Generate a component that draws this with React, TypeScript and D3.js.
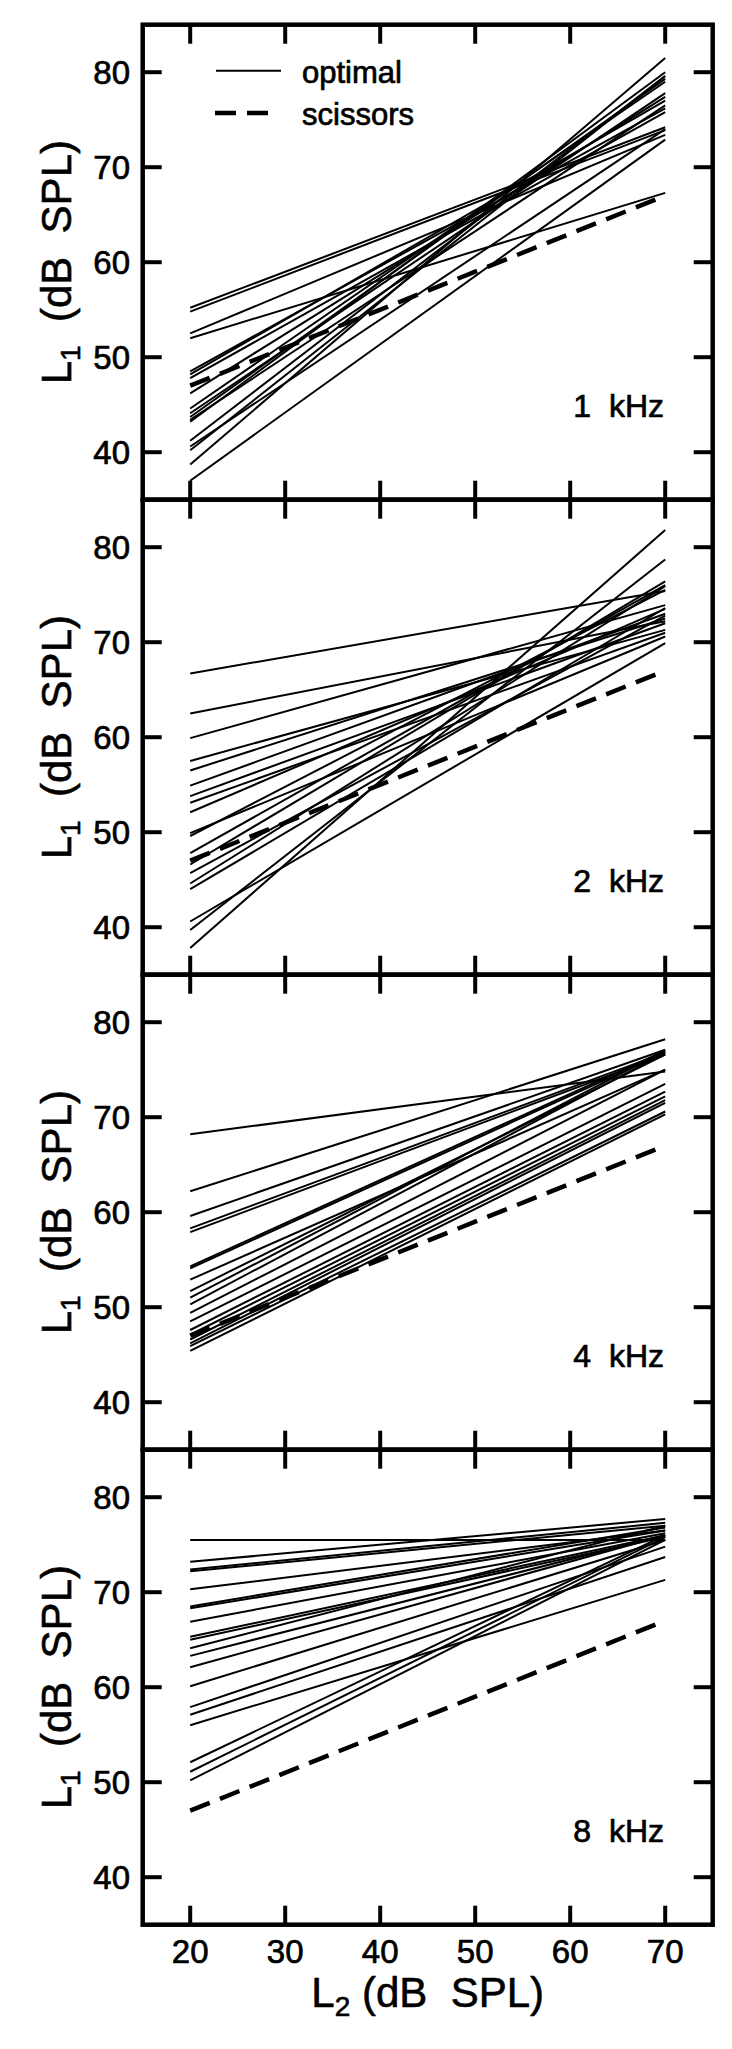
import React from "react";
import * as d3 from "d3";

// L2 values (dB SPL) at which each line is read
const L2_POINTS = [20, 70];
// scissors paradigm L1 at L2 = 20 and 70
const SCISSORS = [47, 67];

// optimal lines: L1 at L2 = 20 and at L2 = 70
const OPTIMAL_1K: number[][] = [
  [55.2, 74.2], [54.8, 73.9], [52.5, 73.4], [52.0, 67.3], [48.5, 76.2],
  [48.2, 77.0], [47.8, 75.8], [46.2, 77.4], [44.6, 79.0], [44.1, 77.8],
  [43.7, 79.3], [43.4, 76.5], [43.2, 80.0], [41.2, 79.6], [40.6, 74.0],
  [40.2, 79.6], [38.7, 81.5], [37.0, 72.9],
];
const OPTIMAL_2K: number[][] = [
  [66.7, 75.4], [62.5, 72.2], [59.9, 73.9], [57.5, 71.3], [56.5, 72.5],
  [54.9, 73.0], [53.8, 72.0], [53.1, 71.0], [52.1, 73.5], [49.9, 70.6],
  [49.6, 75.5], [47.8, 76.0], [46.6, 76.4], [45.7, 72.8], [44.6, 75.9],
  [44.0, 73.6], [40.6, 69.9], [39.7, 78.7], [37.8, 81.8],
];
const OPTIMAL_4K: number[][] = [
  [68.2, 74.8], [62.2, 78.2], [59.6, 77.1], [58.3, 76.8], [57.9, 76.6],
  [54.3, 77.0], [54.1, 76.8], [52.9, 75.0], [51.7, 76.6], [51.0, 77.0],
  [50.3, 76.8], [49.4, 75.0], [48.5, 73.5], [47.6, 72.7], [47.1, 72.2],
  [46.6, 71.8], [45.9, 70.6], [45.4, 70.3], [46.2, 71.5],
];
const OPTIMAL_8K: number[][] = [
  [75.5, 75.5], [73.2, 77.7], [72.4, 77.3], [72.2, 77.0], [70.3, 76.5],
  [68.5, 76.8], [68.3, 76.5], [66.9, 76.2], [65.3, 76.0], [65.0, 75.8],
  [64.1, 77.0], [63.3, 76.0], [62.1, 76.0], [60.1, 75.5], [57.9, 74.8],
  [57.1, 73.7], [56.0, 71.3], [52.1, 76.0], [51.1, 75.8], [50.2, 75.5],
];

const PANEL_DATA = [OPTIMAL_1K, OPTIMAL_2K, OPTIMAL_4K, OPTIMAL_8K];
const PANEL_LABELS = ["1  kHz", "2  kHz", "4  kHz", "8  kHz"];
const X_TICKS = [20, 30, 40, 50, 60, 70];
const Y_TICKS = [40, 50, 60, 70, 80];
const X_DOMAIN = [15, 75];
const Y_DOMAIN = [35, 85];

const FONT = "'Liberation Sans', Arial, Helvetica, sans-serif";

export default function App() {
  const W = 732;
  const H = 2049;
  const left = 142.7;
  const right = 712.7;
  const top = 24.7;
  const panelH = 475;
  const frameW = 4.5;
  const tickLen = 19;

  const x = d3.scaleLinear().domain(X_DOMAIN).range([left, right]);
  const line = d3
    .line<[number, number]>()
    .x((d) => x(d[0]))
    .y((d) => d[1]);

  const txt = { stroke: "#000", strokeWidth: 0.7 };

  return (
    <svg
      width={W}
      height={H}
      style={{ position: "absolute", left: 0, top: 0, background: "#fff" }}
      fontFamily={FONT}
    >
      <rect x={0} y={0} width={W} height={H} fill="#fff" />
      {PANEL_DATA.map((lines, pi) => {
        const pTop = top + pi * panelH;
        const y = d3.scaleLinear().domain(Y_DOMAIN).range([pTop + panelH, pTop]);
        const pts = (vals: number[]) =>
          L2_POINTS.map((l2, i) => [l2, y(vals[i])] as [number, number]);
        return (
          <g key={pi}>
            {lines.map((vals, li) => (
              <path
                key={li}
                d={line(pts(vals)) || ""}
                fill="none"
                stroke="#000"
                strokeWidth={2}
              />
            ))}
            <path
              d={line(pts(SCISSORS)) || ""}
              fill="none"
              stroke="#000"
              strokeWidth={4.5}
              strokeDasharray="21 11"
            />
            {Y_TICKS.map((t) => (
              <g key={t}>
                <line x1={left} x2={left + tickLen} y1={y(t)} y2={y(t)} stroke="#000" strokeWidth={4} />
                <line x1={right - tickLen} x2={right} y1={y(t)} y2={y(t)} stroke="#000" strokeWidth={4} />
                <text x={130} y={y(t)} dy="0.36em" textAnchor="end" fontSize={33} {...txt}>
                  {t}
                </text>
              </g>
            ))}
            {X_TICKS.map((t) => (
              <g key={t}>
                <line x1={x(t)} x2={x(t)} y1={pTop} y2={pTop + tickLen} stroke="#000" strokeWidth={4} />
                <line x1={x(t)} x2={x(t)} y1={pTop + panelH - tickLen} y2={pTop + panelH} stroke="#000" strokeWidth={4} />
              </g>
            ))}
            <rect
              x={left}
              y={pTop}
              width={right - left}
              height={panelH}
              fill="none"
              stroke="#000"
              strokeWidth={frameW}
            />
            <text
              x={664}
              y={pTop + 392}
              textAnchor="end"
              fontSize={32}
              style={{ whiteSpace: "pre" }}
              {...txt}
            >
              {PANEL_LABELS[pi]}
            </text>
            <text
              transform={`translate(71,${pTop + panelH / 2}) rotate(-90)`}
              textAnchor="middle"
              fontSize={42}
              style={{ whiteSpace: "pre" }}
              stroke="#000"
              strokeWidth={0.6}
            >
              L<tspan fontSize={28} dy={9}>1</tspan>
              <tspan dy={-9}>{"  (dB  SPL)"}</tspan>
            </text>
          </g>
        );
      })}
      {X_TICKS.map((t) => (
        <text key={t} x={x(t)} y={1963} textAnchor="middle" fontSize={33} {...txt}>
          {t}
        </text>
      ))}
      <text
        x={(left + right) / 2}
        y={2007}
        textAnchor="middle"
        fontSize={42}
        style={{ whiteSpace: "pre" }}
        stroke="#000"
        strokeWidth={0.6}
      >
        L<tspan fontSize={28} dy={9}>2</tspan>
        <tspan dy={-9}>{" (dB  SPL)"}</tspan>
      </text>
      {/* legend */}
      <line x1={216} x2={281} y1={70.7} y2={70.7} stroke="#000" strokeWidth={2} />
      <text x={302} y={83} fontSize={31} {...txt}>optimal</text>
      <line x1={215} x2={268} y1={113} y2={113} stroke="#000" strokeWidth={4.5} strokeDasharray="21 11" />
      <text x={302} y={125} fontSize={31} {...txt}>scissors</text>
    </svg>
  );
}
